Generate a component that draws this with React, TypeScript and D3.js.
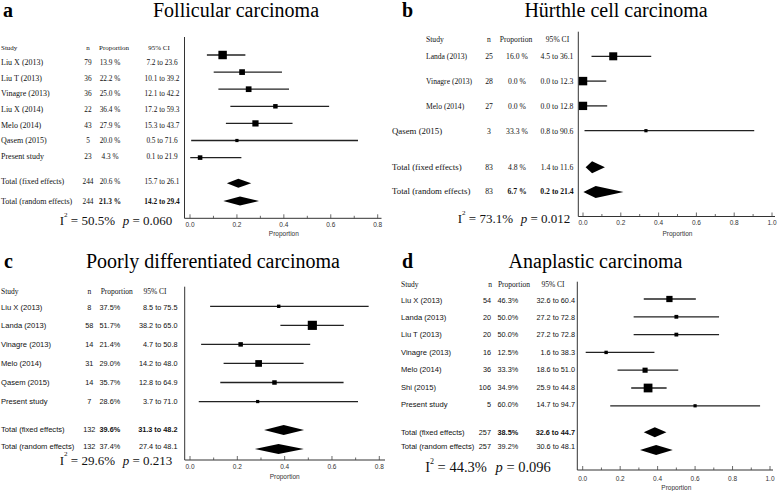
import React from "react";
import * as d3 from "d3";

// ---------- Panel a: Follicular carcinoma ----------
const studiesA = ["Liu X (2013)", "Liu T (2013)", "Vinagre (2013)", "Liu X (2014)", "Melo (2014)", "Qasem (2015)", "Present study"];
const nA = [79, 36, 36, 22, 43, 5, 23];
const propA = [13.9, 22.2, 25.0, 36.4, 27.9, 20.0, 4.3];
const lowA = [7.2, 10.1, 12.1, 17.2, 15.3, 0.5, 0.1];
const highA = [23.6, 39.2, 42.2, 59.3, 43.7, 71.6, 21.9];
const pooledNA = [244, 244];
const pooledPropA = [20.6, 21.3];
const pooledLowA = [15.7, 14.2];
const pooledHighA = [26.1, 29.4];
const ticksA = [0, 0.2, 0.4, 0.6, 0.8];

// ---------- Panel b: Hürthle cell carcinoma ----------
const studiesB = ["Landa (2013)", "Vinagre (2013)", "Melo (2014)", "Qasem (2015)"];
const nB = [25, 28, 27, 3];
const propB = [16.0, 0.0, 0.0, 33.3];
const lowB = [4.5, 0.0, 0.0, 0.8];
const highB = [36.1, 12.3, 12.8, 90.6];
const pooledNB = [83, 83];
const pooledPropB = [4.8, 6.7];
const pooledLowB = [1.4, 0.2];
const pooledHighB = [11.6, 21.4];
const ticksB = [0, 0.2, 0.4, 0.6, 0.8, 1.0];

// ---------- Panel c: Poorly differentiated carcinoma ----------
const studiesC = ["Liu X (2013)", "Landa (2013)", "Vinagre (2013)", "Melo (2014)", "Qasem (2015)", "Present study"];
const nC = [8, 58, 14, 31, 14, 7];
const propC = [37.5, 51.7, 21.4, 29.0, 35.7, 28.6];
const lowC = [8.5, 38.2, 4.7, 14.2, 12.8, 3.7];
const highC = [75.5, 65.0, 50.8, 48.0, 64.9, 71.0];
const pooledNC = [132, 132];
const pooledPropC = [39.6, 37.4];
const pooledLowC = [31.3, 27.4];
const pooledHighC = [48.2, 48.1];
const ticksC = [0, 0.2, 0.4, 0.6, 0.8];

// ---------- Panel d: Anaplastic carcinoma ----------
const studiesD = ["Liu X (2013)", "Landa (2013)", "Liu T (2013)", "Vinagre (2013)", "Melo (2014)", "Shi (2015)", "Present study"];
const nD = [54, 20, 20, 16, 36, 106, 5];
const propD = [46.3, 50.0, 50.0, 12.5, 33.3, 34.9, 60.0];
const lowD = [32.6, 27.2, 27.2, 1.6, 18.6, 25.9, 14.7];
const highD = [60.4, 72.8, 72.8, 38.3, 51.0, 44.8, 94.7];
const pooledND = [257, 257];
const pooledPropD = [38.5, 39.2];
const pooledLowD = [32.6, 30.6];
const pooledHighD = [44.7, 48.1];
const ticksD = [0, 0.2, 0.4, 0.6, 0.8, 1.0];

const pooledLabels = ["Total (fixed effects)", "Total (random effects)"];
const headers = ["Study", "n", "Proportion", "95% CI"];
const heterogeneity = [
  { i2: "50.5%", p: "0.060" },
  { i2: "73.1%", p: "0.012" },
  { i2: "29.6%", p: "0.213" },
  { i2: "44.3%", p: "0.096" },
];
const titles = ["Follicular carcinoma", "Hürthle cell carcinoma", "Poorly differentiated carcinoma", "Anaplastic carcinoma"];
const letters = ["a", "b", "c", "d"];

const SERIF = "'Liberation Serif', 'Times New Roman', serif";
const SANS = "'Liberation Sans', Arial, sans-serif";

const panels = [
  {
    data: { studies: studiesA, n: nA, prop: propA, low: lowA, high: highA, pn: pooledNA, pp: pooledPropA, pl: pooledLowA, ph: pooledHighA, ticks: ticksA },
    L: {
      letterX: 3, titleX: 236, titleY: 17, rowFont: SERIF, headFont: SERIF, nameFs: (i: number) => 8, pooledFs: 8, numFs: 7.3, headFs: 7, pctSuffix: " %",
      studyX: (i: number) => 1, pooledX: 1, headStudyX: 1,
      nX: 88, nAnchor: "middle", propX: 110, propAnchor: "middle", ciX: 162, ciAnchor: "middle",
      hN: 88, hProp: 114, hCI: 159, headY: 47.7,
      textY0: 62.7, textStep: 15.6, markY0: 55, markStep: 17.1,
      pooledTextY: [181.7, 201], pooledMarkY: [183.3, 201], boldRow: 1, dh: 4.5,
      i2X: 116, i2Y: 220, i2fs: 13,
      vx: 184.5, top: 37, bottom: 218.3, range: [190, 377.7], domain: [0, 0.8], end: 381.5,
      tickLabY: 224.3, propLabY: 233.3, k: 0.95,
    },
  },
  {
    data: { studies: studiesB, n: nB, prop: propB, low: lowB, high: highB, pn: pooledNB, pp: pooledPropB, pl: pooledLowB, ph: pooledHighB, ticks: ticksB },
    L: {
      letterX: 402, titleX: 616, titleY: 17, rowFont: SERIF, headFont: SERIF, nameFs: (i: number) => (i < 3 ? 7.6 : 8.8), pooledFs: 8.8, numFs: 7.7, headFs: 7.6, pctSuffix: " %",
      studyX: (i: number) => (i < 3 ? 426 : 392), pooledX: 392, headStudyX: 426,
      nX: 489, nAnchor: "middle", propX: 517, propAnchor: "middle", ciX: 557, ciAnchor: "middle",
      hN: 489, hProp: 516, hCI: 557.5, headY: 39.3,
      textY0: 56, textStep: 25, markY0: 56.3, markStep: 24.8,
      pooledTextY: [167.3, 191], pooledMarkY: [167.3, 192], boldRow: 1, dh: 6,
      i2X: 514, i2Y: 218, i2fs: 13,
      vx: 578.3, top: 31.7, bottom: 216.5, range: [583, 772], domain: [0, 1], end: 775,
      tickLabY: 222, propLabY: 233.3, k: 1.6,
    },
  },
  {
    data: { studies: studiesC, n: nC, prop: propC, low: lowC, high: highC, pn: pooledNC, pp: pooledPropC, pl: pooledLowC, ph: pooledHighC, ticks: ticksC },
    L: {
      letterX: 4, titleX: 213, titleY: 268, rowFont: SANS, headFont: SERIF, nameFs: (i: number) => 7.6, pooledFs: 7.6, numFs: 7.3, headFs: 7.5, pctSuffix: "%",
      studyX: (i: number) => 1, pooledX: 1, headStudyX: 1,
      nX: 89.3, nAnchor: "middle", propX: 99.5, propAnchor: "start", ciX: 177.5, ciAnchor: "end",
      hN: 89.3, hProp: 116.7, hCI: 155, headY: 291.7,
      textY0: 307, textStep: 18.8, markY0: 306.3, markStep: 19.05,
      pooledTextY: [429, 446.2], pooledMarkY: [430, 449], boldRow: 0, dh: 5,
      i2X: 116, i2Y: 459.5, i2fs: 13,
      vx: 184.7, top: 286.7, bottom: 460, range: [190, 379.3], domain: [0, 0.8], end: 385,
      tickLabY: 466.7, propLabY: 476.7, k: 1.2,
    },
  },
  {
    data: { studies: studiesD, n: nD, prop: propD, low: lowD, high: highD, pn: pooledND, pp: pooledPropD, pl: pooledLowD, ph: pooledHighD, ticks: ticksD },
    L: {
      letterX: 402, titleX: 595.5, titleY: 268, rowFont: SANS, headFont: SERIF, nameFs: (i: number) => 7.6, pooledFs: 7.6, numFs: 7.3, headFs: 7.5, pctSuffix: "%",
      studyX: (i: number) => 401, pooledX: 401, headStudyX: 401,
      nX: 491, nAnchor: "end", propX: 497.5, propAnchor: "start", ciX: 575, ciAnchor: "end",
      hN: 490, hProp: 514, hCI: 553, headY: 284.3,
      textY0: 300, textStep: 17.4, markY0: 299, markStep: 17.8,
      pooledTextY: [432.7, 446.7], pooledMarkY: [432.3, 450], boldRow: 0, dh: 5,
      i2X: 488, i2Y: 466.7, i2fs: 14.5,
      vx: 577.3, top: 281.7, bottom: 470, range: [582.7, 770], domain: [0, 1], end: 773,
      tickLabY: 478.3, propLabY: 487.7, k: 0.85,
    },
  },
];

function Panel({ idx }: { idx: number }) {
  const { data, L } = panels[idx] as any;
  const x = d3.scaleLinear().domain(L.domain).range(L.range);
  const minor = x.ticks(Math.round(L.domain[1] * 10));
  const fmt = d3.format(".1f");
  const side = (n: number) => Math.max(3.2, L.k * Math.sqrt(n));
  const diamond = (c: number, lo: number, hi: number, y: number) =>
    `M${x(lo / 100)},${y} L${x(c / 100)},${y - L.dh} L${x(hi / 100)},${y} L${x(c / 100)},${y + L.dh} Z`;
  const het = heterogeneity[idx];
  const stroke = "#222";
  const isMajor = (t: number) => data.ticks.some((m: number) => Math.abs(m - t) < 1e-6);
  return (
    <g>
      <text x={L.letterX} y={L.titleY} fontFamily={SERIF} fontSize={20} fontWeight="bold">{letters[idx]}</text>
      <text x={L.titleX} y={L.titleY} fontFamily={SERIF} fontSize={20} textAnchor="middle">{titles[idx]}</text>
      {/* headers */}
      <g fontFamily={L.headFont} fontSize={L.headFs} dominantBaseline="central" fill="#111">
        <text x={L.headStudyX} y={L.headY}>{headers[0]}</text>
        <text x={L.hN} y={L.headY} textAnchor="middle">{headers[1]}</text>
        <text x={L.hProp} y={L.headY} textAnchor="middle">{headers[2]}</text>
        <text x={L.hCI} y={L.headY} textAnchor="middle">{headers[3]}</text>
      </g>
      {/* study rows */}
      <g fontFamily={L.rowFont} dominantBaseline="central" fill="#111">
        {data.studies.map((s: string, i: number) => {
          const y = L.textY0 + L.textStep * i;
          return (
            <g key={s + i}>
              <text x={L.studyX(i)} y={y} fontSize={L.nameFs(i)}>{s}</text>
              <text x={L.nX} y={y} fontSize={L.numFs} textAnchor={L.nAnchor}>{data.n[i]}</text>
              <text x={L.propX} y={y} fontSize={L.numFs} textAnchor={L.propAnchor}>{fmt(data.prop[i]) + L.pctSuffix}</text>
              <text x={L.ciX} y={y} fontSize={L.numFs} textAnchor={L.ciAnchor}>{`${fmt(data.low[i])} to ${fmt(data.high[i])}`}</text>
            </g>
          );
        })}
        {pooledLabels.map((s, j) => {
          const y = L.pooledTextY[j];
          const bw = j === L.boldRow ? "bold" : "normal";
          return (
            <g key={s}>
              <text x={L.pooledX} y={y} fontSize={L.pooledFs}>{s}</text>
              <text x={L.nX} y={y} fontSize={L.numFs} textAnchor={L.nAnchor}>{data.pn[j]}</text>
              <text x={L.propX} y={y} fontSize={L.numFs} textAnchor={L.propAnchor} fontWeight={bw}>{fmt(data.pp[j]) + L.pctSuffix}</text>
              <text x={L.ciX} y={y} fontSize={L.numFs} textAnchor={L.ciAnchor} fontWeight={bw}>{`${fmt(data.pl[j])} to ${fmt(data.ph[j])}`}</text>
            </g>
          );
        })}
      </g>
      {/* heterogeneity */}
      <text x={L.i2X} y={L.i2Y} fontFamily={SERIF} fontSize={L.i2fs} textAnchor="middle" dominantBaseline="central" fill="#111">
        <tspan>I</tspan>
        <tspan dy={-L.i2fs * 0.42} fontSize={L.i2fs * 0.55}>2</tspan>
        <tspan dy={L.i2fs * 0.42}>{` = ${het.i2}`}</tspan>
        <tspan dx={L.i2fs * 0.6} fontStyle="italic">p</tspan>
        <tspan>{` = ${het.p}`}</tspan>
      </text>
      {/* axes */}
      <line x1={L.vx} x2={L.vx} y1={L.top} y2={L.bottom} stroke="#333" strokeWidth={1} />
      <line x1={L.vx} x2={L.end} y1={L.bottom} y2={L.bottom} stroke="#333" strokeWidth={1} />
      {minor.map((t: number) => (
        <line key={"m" + t} x1={x(t)} x2={x(t)} y1={L.bottom} y2={L.bottom - (isMajor(t) ? 4 : 2.5)} stroke="#444" strokeWidth={0.8} />
      ))}
      <g fontFamily={SANS} fontSize={6.5} fill="#333" textAnchor="middle" dominantBaseline="central">
        {data.ticks.map((t: number) => (
          <text key={"t" + t} x={x(t)} y={L.tickLabY}>{fmt(t)}</text>
        ))}
        <text x={x((L.domain[0] + L.domain[1]) / 2)} y={L.propLabY}>Proportion</text>
      </g>
      {/* study markers */}
      {data.studies.map((s: string, i: number) => {
        const y = L.markY0 + L.markStep * i;
        const w = side(data.n[i]);
        return (
          <g key={"mk" + i}>
            <line x1={x(data.low[i] / 100)} x2={x(data.high[i] / 100)} y1={y} y2={y} stroke={stroke} strokeWidth={1.3} />
            <rect x={x(data.prop[i] / 100) - w / 2} y={y - w / 2} width={w} height={w} fill="#000" />
          </g>
        );
      })}
      {pooledLabels.map((s, j) => (
        <path key={"dm" + j} d={diamond(data.pp[j], data.pl[j], data.ph[j], L.pooledMarkY[j])} fill="#000" />
      ))}
    </g>
  );
}

export default function App() {
  return (
    <svg width={777} height={491} style={{ position: "absolute", left: 0, top: 0, background: "#fff" }}>
      <rect width={777} height={491} fill="#fff" />
      {panels.map((_, i) => (
        <Panel key={i} idx={i} />
      ))}
    </svg>
  );
}
